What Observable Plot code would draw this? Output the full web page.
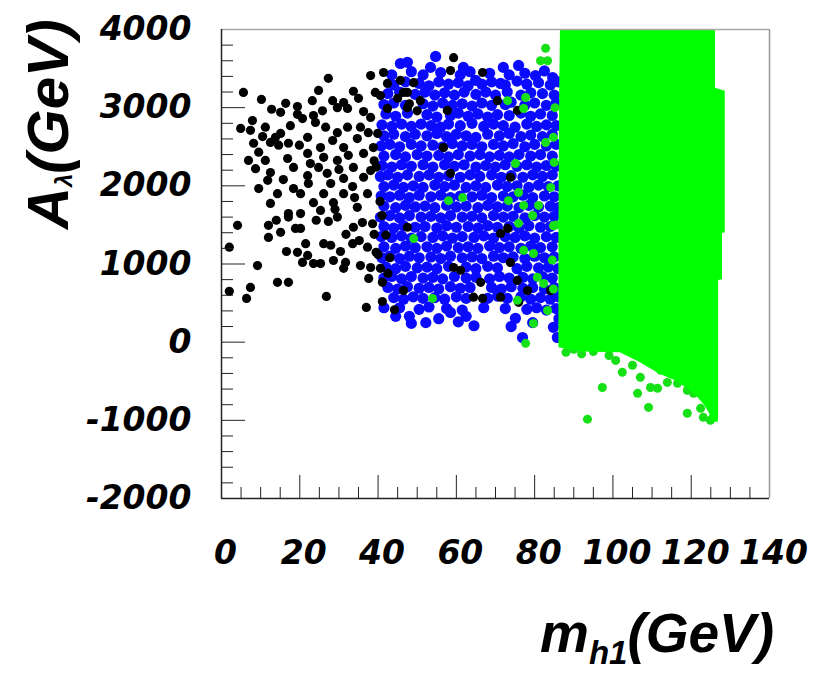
<!DOCTYPE html>
<html><head><meta charset="utf-8">
<script src="https://cdn.jsdelivr.net/npm/d3@7"></script>
<script src="https://cdn.jsdelivr.net/npm/@observablehq/plot@0.6"></script>
<style>body{margin:0;background:#fff;}</style>
</head><body><div id="chart"></div>
<script>
const xMajorTicks = [0,20,40,60,80,100,120,140];
const xMinorTicks = [5,10,15,25,30,35,45,50,55,65,70,75,85,90,95,105,110,115,125,130,135];
const yMajorTicks = [-2000,-1000,0,1000,2000,3000,4000];
const yMinorTicks = [-1800,-1600,-1400,-1200,-800,-600,-400,-200,200,400,600,800,1200,1400,1600,1800,2200,2400,2600,2800,3200,3400,3600,3800];

// black points [m_h1, A_lambda]
const blackPts = [
[5.6,3195],[10.2,3105],[12.8,2980],[16.4,3055],[15.1,2940],[19.4,3015],[19.4,2915],[23.2,3090],[24.8,3220],[27.3,3375],[28.4,3090],[31.2,3065],[33.7,3210],[32.2,2990],[29.6,3000],[36.3,2950],[38.1,3410],[41.4,3450],[39.3,3195],[42.4,3310],
[7.9,2835],[4.9,2735],[11.2,2750],[7.4,2710],[15.1,2670],[17.6,2770],[20.7,2860],[23.5,2900],[24.0,2810],[26.6,2750],[29.6,2680],[32.2,2750],[35.5,2750],[34.7,2605],
[8.2,2545],[9.5,2430],[12.5,2555],[14.6,2520],[17.1,2545],[22.0,2620],[25.3,2490],[28.4,2580],[31.2,2490],
[6.9,2325],[11.2,2325],[12.5,2170],[8.7,2220],[16.9,2350],[18.4,2235],[22.0,2415],[22.7,2285],[24.8,2235],[26.1,2365],[29.6,2325],[32.4,2390],[33.7,2235],[36.3,2415],
[11.8,2070],[14.3,1900],[9.5,1965],[12.5,1775],[18.4,1965],[20.2,1900],[22.0,2130],[22.2,2030],[23.5,1785],[26.1,1900],[28.6,1785],[27.9,2030],[31.2,2095],[31.2,1900],[33.5,1990],[34.7,1725],[36.3,2110],[37.3,1900],[38.1,2195],[38.8,2490],[39.9,2670],[38.1,2875],
[17.1,1645],[20.2,1645],[4.1,1495],[12.0,1495],[17.1,1600],[15.1,1405],[12.0,1340],[18.9,1455],[20.2,1455],[27.3,1545],[29.6,1600],[25.3,1685],[33.7,1470],[36.0,1530],[38.6,1515],
[2.0,1215],[9.2,980],[16.6,1160],[19.4,1150],[21.5,1260],[22.0,1110],[20.7,1020],[23.5,1005],[25.3,1005],[26.1,1260],[27.9,1240],[30.4,1160],[28.6,1045],[31.7,1020],[31.2,945],[33.5,1260],[35.5,980],[37.3,1215],[38.1,955],[40.6,945],[37.6,815],[41.1,765],
[2.0,650],[7.4,700],[6.4,560],[14.3,765],[17.1,765],[26.8,585],[37.0,445],[41.1,520],[44.2,415],
[13.8,2620],[19.9,2520],[27.0,2160],[30.0,2210],[15.8,2080],[10.5,2630],[25.8,2960],[35.0,3120],[37.5,2680],[39.0,2320],[34.0,1850],[29.0,1700],[24.2,1560],[14.0,1560],[31.8,1380],[35.2,1300],[39.5,1150],[39.0,1380],
[45.7,3350],[49.1,3320],[47.5,3195],[45.0,3120],[42.4,2990],[47.5,3000],[40.6,3155],[59.3,3640],[58.5,3475],[66.7,3450],[50.8,3090],[70.5,3090],[75.6,2965],[57.7,2965],[46.5,3195],[48.0,3050],[50.0,2960],[56.7,2490],[73.8,2110],[58.5,2160],[47.5,1470],[71.3,1390],
[59.3,955],[61.1,920],[66.2,765],[64.4,575],[66.7,560],[73.8,1020],[75.6,790],[78.2,660],[75.9,510],[46.5,660],[73.1,1455],[84.1,660],[71.3,575],
[39.5,2240],[40.5,1800],[41.0,1620],[42.0,1370],[40.0,1120],[43.0,1080],[42.5,880]
];

// blue points
const bluePts = [
[45.7,3565],[47.5,3580],[54.7,3655],[53.4,3515],[61.8,3515],[72.0,3515],[75.9,3540],[64.9,3350],[71.3,3310],[80.2,3410],[84.6,3385],
[43.5,3420],[48.5,3460],[51.5,3420],[56.0,3450],[61.0,3420],[63.5,3460],[68.5,3440],[73.5,3420],[77.5,3440],[82.5,3470],
[44.0,3290],[47.0,3330],[50.5,3310],[53.0,3280],[55.5,3330],[58.0,3300],[60.5,3320],[63.0,3280],[66.5,3300],[69.0,3330],[72.5,3290],[75.5,3340],[78.0,3300],[81.0,3320],[84.0,3290],[86.0,3330],
[42.5,3180],[45.5,3200],[49.5,3170],[52.0,3200],[54.5,3160],[57.0,3190],[59.5,3160],[62.0,3200],[65.0,3170],[67.5,3200],[70.0,3160],[73.0,3200],[76.5,3160],[79.0,3190],[82.0,3180],[85.0,3160],
[41.5,3040],[44.0,3060],[47.0,3030],[51.5,3050],[54.0,3020],[56.5,3060],[59.0,3030],[61.5,3050],[64.0,3020],[66.5,3060],[69.0,3030],[72.5,3040],[74.0,3070],[77.5,3030],[80.0,3060],[83.0,3030],[85.5,3060],
[42.0,2920],[44.5,2890],[47.5,2930],[52.5,2910],[55.0,2880],[58.5,2900],[60.5,2930],[63.0,2890],[65.5,2920],[68.0,2880],[70.5,2910],[73.5,2900],[76.5,2930],[79.0,2890],[81.5,2920],[84.5,2900],
[41.0,2780],[43.5,2760],[46.0,2790],[48.5,2760],[51.0,2790],[53.5,2770],[56.0,2750],[58.0,2790],[61.0,2770],[64.0,2800],[67.0,2760],[69.5,2790],[72.0,2770],[75.0,2750],[78.0,2790],[80.5,2760],[83.0,2780],[85.5,2770],
[41.5,2640],[44.0,2660],[47.0,2630],[49.5,2660],[52.5,2640],[55.0,2670],[57.5,2630],[60.0,2660],[62.5,2640],[65.0,2620],[68.0,2660],[71.0,2640],[73.5,2670],[76.5,2630],[79.0,2650],[82.0,2630],[84.5,2660],
[40.8,2510],[43.0,2530],[45.5,2500],[48.5,2530],[51.0,2510],[54.0,2520],[56.5,2500],[59.0,2540],[61.5,2510],[64.0,2530],[66.5,2500],[69.5,2530],[72.0,2510],[74.5,2540],[77.5,2500],[80.0,2530],[83.0,2510],[85.5,2530],
[41.5,2380],[44.5,2400],[47.0,2370],[50.0,2400],[52.5,2380],[55.5,2390],[58.0,2370],[60.5,2400],[63.5,2380],[66.0,2400],[68.5,2370],[71.0,2390],[73.5,2370],[76.0,2400],[79.0,2380],[81.5,2400],[84.5,2380],
[41.0,2260],[43.5,2240],[46.0,2270],[48.5,2250],[51.5,2270],[54.0,2240],[57.0,2270],[59.5,2250],[62.0,2270],[65.0,2240],[67.5,2260],[70.0,2240],[72.5,2270],[75.5,2250],[78.0,2270],[80.5,2240],[83.0,2260],[85.5,2250],
[40.6,2120],[42.5,2140],[45.0,2110],[47.5,2140],[50.5,2120],[53.0,2140],[55.5,2110],[58.0,2130],[61.0,2110],[63.5,2140],[66.0,2120],[69.0,2140],[71.5,2110],[74.0,2130],[77.0,2110],[79.5,2140],[82.0,2120],[84.5,2140],
[41.5,1990],[44.0,2010],[46.5,1980],[49.0,2000],[51.5,1980],[54.5,2010],[57.0,1990],[59.5,2010],[62.5,1980],[65.0,2000],[67.5,1980],[70.5,2010],[73.0,1990],[75.5,2000],[78.5,1980],[81.0,2010],[83.5,1990],[86.0,2000],
[40.8,1870],[43.0,1860],[45.5,1880],[48.0,1850],[50.5,1880],[53.5,1860],[56.0,1880],[58.5,1850],[61.0,1870],[64.0,1860],[66.5,1880],[69.0,1850],[72.0,1870],[74.5,1860],[77.0,1880],[79.5,1850],[82.5,1870],[85.0,1860],
[41.5,1740],[44.5,1720],[47.0,1750],[49.5,1730],[52.0,1740],[54.5,1720],[57.5,1750],[60.0,1730],[62.5,1740],[65.5,1720],[68.0,1750],[70.5,1730],[73.0,1740],[76.0,1720],[78.5,1750],[81.0,1730],[84.0,1740],[86.0,1720],
[40.6,1600],[43.0,1620],[45.5,1590],[48.0,1620],[51.0,1600],[53.5,1610],[56.0,1590],[58.5,1620],[61.5,1600],[64.0,1610],[66.5,1590],[69.5,1620],[72.0,1600],[74.5,1610],[77.5,1590],[80.0,1620],[82.5,1600],[85.0,1610],
[41.5,1480],[44.0,1460],[46.5,1490],[49.5,1470],[52.0,1480],[55.0,1460],[57.5,1490],[60.0,1470],[63.0,1480],[65.5,1460],[68.0,1490],[70.5,1470],[73.5,1480],[76.0,1460],[78.5,1490],[81.5,1470],[84.0,1480],
[40.8,1350],[43.5,1340],[46.0,1360],[48.5,1330],[51.0,1350],[54.0,1340],[56.5,1360],[59.0,1330],[61.5,1350],[64.5,1340],[67.0,1360],[69.5,1330],[72.5,1350],[75.0,1340],[77.5,1360],[80.0,1330],[83.0,1350],[85.5,1340],
[41.5,1220],[44.5,1200],[47.0,1230],[49.5,1210],[52.5,1220],[55.0,1200],[57.5,1230],[60.5,1210],[63.0,1220],[65.5,1200],[68.5,1230],[71.0,1210],[73.5,1220],[76.5,1200],[79.0,1230],[81.5,1210],[84.5,1220],
[41.0,1080],[43.0,1100],[45.5,1070],[48.0,1100],[50.5,1080],[53.5,1090],[56.0,1070],[58.5,1100],[61.5,1080],[64.0,1090],[66.5,1070],[69.5,1100],[72.0,1080],[74.5,1090],[77.5,1070],[80.0,1100],[82.5,1080],[85.0,1090],
[42.0,960],[44.5,940],[47.0,970],[50.0,950],[52.5,960],[55.0,940],[58.0,970],[62.5,960],[65.0,940],[68.0,970],[70.5,950],[75.5,940],[78.0,970],[81.0,950],[83.5,960],[86.0,940],
[41.5,820],[43.5,840],[46.0,810],[48.5,840],[51.5,820],[54.0,830],[56.5,810],[59.5,840],[62.5,820],[65.0,830],[68.5,810],[71.0,840],[73.5,820],[77.0,830],[79.5,810],[82.0,840],[84.5,820],
[42.5,700],[45.0,680],[47.5,710],[50.5,690],[53.0,700],[55.5,680],[58.5,710],[61.0,690],[63.5,700],[69.0,700],[71.5,680],[74.0,710],[77.0,690],[79.5,700],[82.5,680],[85.0,700],
[44.0,570],[46.5,550],[49.0,580],[51.5,560],[54.5,570],[57.0,550],[60.0,580],[62.5,560],[68.0,560],[70.5,590],[73.0,560],[76.5,580],[79.0,550],[81.5,570],[84.0,550],[86.0,580],
[45.5,440],[50.5,420],[53.0,450],[57.5,430],[61.5,410],[67.0,440],[72.5,430],[78.0,420],[80.5,440],[83.0,410],[85.5,430],
[48.5,240],[48.0,330],[52.2,250],[55.5,300],[58.5,380],[60.5,260],[62.5,330],[64.5,210],[75.1,305],[76.9,60],[74.0,200],[84.8,190],[85.8,60],[86.2,300],[79.5,250],[44.5,330],[41.5,440]
];

// scattered green points
const greenPts = [
[82.8,3760],[81.5,3600],[83.3,3600],[73.1,3090],[77.7,3130],[77.2,2990],[82.8,2555],[84.8,2620],[75.1,2285],[58.0,1810],[61.6,1850],[73.3,1810],[75.9,1915],[77.2,1750],[81.0,1750],[84.1,1980],[49.1,1325],[77.2,1175],[79.5,1620],[79.7,1135],[53.9,560],[75.6,535],[79.7,240],[77.7,-15],[83.3,405],[82.3,750],[80.7,830],[75.9,1520],[84.8,1490],
[85.0,2300],[85.5,1500],[84.5,1050],[85.2,3000],[84.8,680],
[97.3,-580],[93.5,-985],[106.3,-655],[109.1,-835],[102.4,-385],[107.0,-450],[109.6,-580],[111.4,-590],[113.9,-515],[116.5,-527],[119.0,-617],[120.6,-655],[119.0,-910],[122.4,-847],[123.1,-962],[105.0,-295],[100.7,-233],[112.2,-360],[124.9,-1000],
[88.0,-130],[92.0,-150],[95.0,-120],[99.0,-170],[90.0,-90]
];

// dense green block outline (A_lambda, left m_h1, right m_h1)
const greenY  = [-1025,-960,-923,-808,-693,-591,-501,-412,-335,-258,-195,-135,-125,-70,790,800,1390,1400,3210,3250,4000];
const greenX1 = [125.6,124.6,124.8,123.4,121.4,118.8,116.3,112.0,109.4,106.8,104.3,101.9,92.0,86.2,86.2,86.2,86.2,86.2,86.4,86.4,86.6];
const greenX2 = [126.9,127.0,127.0,127.0,127.0,127.0,127.0,127.0,127.0,127.0,127.0,127.0,127.0,127.0,127.0,128.0,128.0,128.7,128.7,126.2,126.2];

const greenBlock = greenY.map((y, i) => ({y, x1: greenX1[i], x2: greenX2[i]}));
const px = d => d[0], py = d => d[1];

const tickFont = {fontSize: 33, fontWeight: "bold", fontStyle: "oblique", fontFamily: "DejaVu Sans"};

const chart = Plot.plot({
  width: 820, height: 674,
  marginLeft: 221, marginRight: 51, marginTop: 29, marginBottom: 176,
  x: {domain: [0, 140]},
  y: {domain: [-2000, 4000]},
  style: {background: "#fff", fontFamily: "DejaVu Sans"},
  marks: [
    Plot.dot(bluePts, {x: px, y: py, r: 5.6, fill: "#0a0aff", stroke: null}),
    Plot.dot(blackPts, {x: px, y: py, r: 4.6, fill: "#000", stroke: null}),
    Plot.dot(greenPts, {x: px, y: py, r: 4.5, fill: "#16e016", stroke: null}),
    Plot.areaX(greenBlock, {y: "y", x1: "x1", x2: "x2", fill: "#00ff00", curve: "linear"}),
    Plot.tickY(yMajorTicks, {insetRight: 524, stroke: "#222", strokeWidth: 1}),
    Plot.tickY(yMinorTicks, {insetRight: 536, stroke: "#222", strokeWidth: 1}),
    Plot.tickX(xMajorTicks, {insetTop: 446, stroke: "#222", strokeWidth: 1}),
    Plot.tickX(xMinorTicks, {insetTop: 458, stroke: "#222", strokeWidth: 1}),
    Plot.ruleY([4000], {stroke: "#aaa", strokeWidth: 1.5}),
    Plot.ruleX([140], {stroke: "#999", strokeWidth: 1.5}),
    Plot.ruleX([0], {stroke: "#222", strokeWidth: 1.5}),
    Plot.ruleY([-2000], {stroke: "#222", strokeWidth: 1.5}),
    Plot.axisY({ticks: yMajorTicks, tickSize: 0, tickPadding: 30, tickFormat: d => String(d), label: null, ...tickFont}),
    Plot.axisX({ticks: xMajorTicks, tickSize: 0, tickPadding: 42, tickFormat: d => String(d), label: null, dx: 4, ...tickFont})
  ]
});

const svg = d3.select(chart);
const xl = svg.append("text")
  .attr("x", 540).attr("y", 652)
  .attr("text-anchor", "start")
  .attr("font-family", "Liberation Sans, Arial, sans-serif")
  .attr("font-weight", "bold").attr("font-style", "italic")
  .attr("font-size", 55).attr("fill", "#000");
xl.append("tspan").text("m");
xl.append("tspan").attr("font-size", 33).attr("dy", 12).text("h1");
xl.append("tspan").attr("dy", -12).text("(GeV)");

const yl = svg.append("text")
  .attr("transform", "translate(68,229) rotate(-90)")
  .attr("text-anchor", "start")
  .attr("font-family", "Liberation Sans, Arial, sans-serif")
  .attr("font-weight", "bold").attr("font-style", "italic")
  .attr("font-size", 58).attr("fill", "#000");
yl.append("tspan").text("A");
yl.append("tspan").attr("font-size", 24).attr("dy", 4).text("λ");
yl.append("tspan").attr("dy", -4).text("(GeV)");

document.getElementById("chart").appendChild(chart);
</script>
</body></html>
